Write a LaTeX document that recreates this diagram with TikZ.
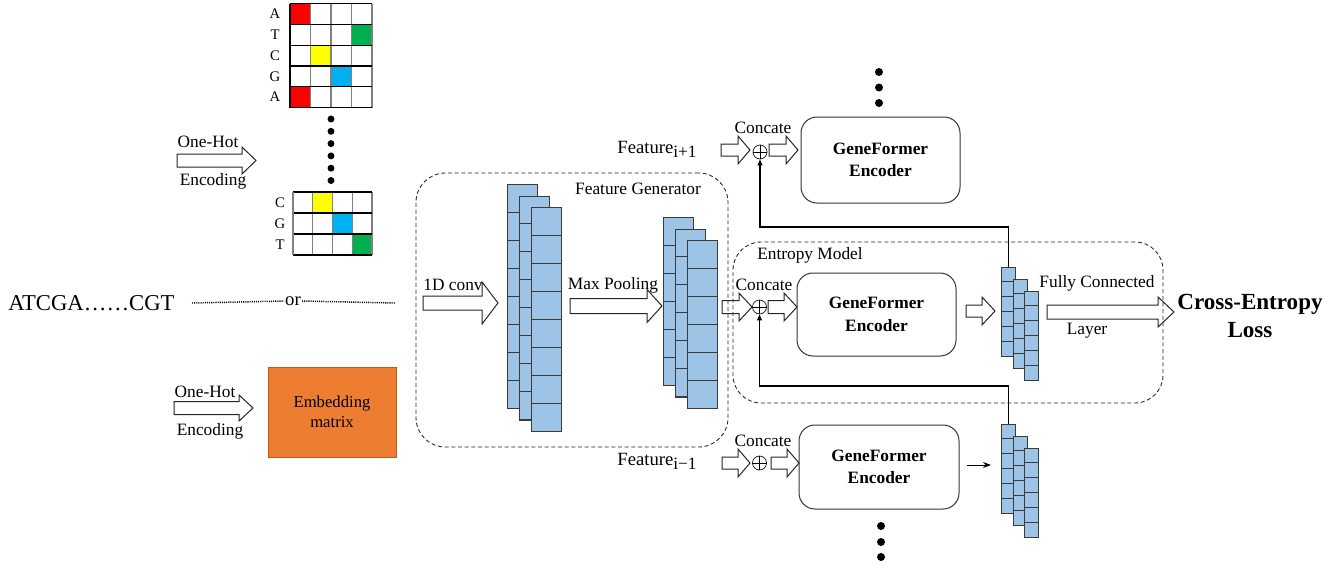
\documentclass[tikz,border=0pt]{standalone}
\usepackage{fontspec}
\setmainfont{Liberation Serif}
\usetikzlibrary{arrows.meta}
\definecolor{lyrfill}{HTML}{9DC3E6}
\definecolor{lyrdraw}{HTML}{3A3A3A}
\definecolor{cred}{HTML}{FF0000}
\definecolor{cgreen}{HTML}{00B050}
\definecolor{cyel}{HTML}{FFFF00}
\definecolor{cblue}{HTML}{00B0F0}
\definecolor{embfill}{HTML}{ED7D31}
\definecolor{embdraw}{HTML}{C55A11}
\newcommand\lyr[6]{%
  \node[lyrbox, minimum width=#4*0.75pt, minimum height=#5*0.75pt, anchor=north west] (#1) at (#2,#3) {};
  \foreach \k in {1,...,#6}{\draw[lyrdraw, line width=0.7pt] (#2,{#3+\k*#5/#6}) -- ++(#4,0);}
}
\newcommand\barrow[6]{% x1 x2 y bodyhalf headhalf headlen
  \draw[barr] (#1,{#3-#4}) -- ({#2-#6},{#3-#4}) -- ({#2-#6},{#3-#5}) -- (#2,#3) -- ({#2-#6},{#3+#5}) -- ({#2-#6},{#3+#4}) -- (#1,{#3+#4}) -- cycle;
}
\newcommand\subtx[1]{\raisebox{-0.45ex}{\fontsize{13}{15}\selectfont #1}}
\begin{document}
\begin{tikzpicture}[x=0.75pt,y=-0.75pt,
  lyrbox/.style={draw=lyrdraw, fill=lyrfill, line width=0.7pt, inner sep=0pt},
  barr/.style={draw=black!85, fill=white, line width=0.75pt, line join=miter},
  lbl/.style={font=\fontsize{13}{15}\selectfont, inner sep=0pt},
  glbl/.style={font=\fontsize{11}{13}\selectfont, inner sep=0pt},
  enc/.style={draw=black!80, rounded corners=12pt, line width=0.75pt, align=center, font=\fontsize{13}{17}\selectfont\bfseries, inner sep=0pt},
  dashbox/.style={draw=black!85, dash pattern=on 3pt off 2pt, line width=0.65pt, inner sep=0pt},
  oplus/.style={circle, draw=black!85, line width=0.6pt, minimum size=10.5pt, inner sep=0pt},
  fb/.style={draw=black, line width=0.9pt, -{Triangle[length=4.5pt,width=3.6pt]}},
  dot/.style={circle, fill=black, inner sep=0pt, minimum size=#1}
]
\useasboundingbox (0,0) rectangle (1338,568);

% ---------- top one-hot grid ----------
\foreach \r/\c/\col in {0/0/cred,1/3/cgreen,2/1/cyel,3/2/cblue,4/0/cred}
  \fill[\col] ({290+\c*20.5},{3.5+\r*20.8}) rectangle ++(20.5,20.8);
\foreach \c in {1,...,4} \draw[gray, line width=0.9pt] ({290+\c*20.5},3.5) -- ++(0,104);
\foreach \r in {0,...,5} \draw[black, line width=0.9pt] (290,{3.5+\r*20.8}) -- (372,{3.5+\r*20.8});
\draw[black, line width=0.9pt] (290,3.5) -- ++(0,104);
\foreach \t [count=\i from 0] in {A,T,C,G,A}
  \node[glbl] (gt\i) at (275,{13.9+\i*20.8}) {\t};

\foreach \i in {0,...,5} \node[dot=5.2pt] (vd\i) at (331,{119+\i*12.3}) {};

% ---------- bottom one-hot grid ----------
\foreach \r/\c/\col in {0/1/cyel,1/2/cblue,2/3/cgreen}
  \fill[\col] ({293+\c*19.75},{192+\r*21}) rectangle ++(19.75,21);
\foreach \c in {1,...,4} \draw[gray, line width=0.9pt] ({293+\c*19.75},192) -- ++(0,63);
\foreach \r in {0,...,3} \draw[black, line width=0.9pt] (293,{192+\r*21}) -- (372,{192+\r*21});
\draw[gray, line width=0.9pt] (293,192) -- ++(0,63);
\foreach \t [count=\i from 0] in {C,G,T}
  \node[glbl] (gb\i) at (280,{202.5+\i*21}) {\t};

% ---------- one-hot arrows ----------
\barrow{177}{256}{160.5}{6.5}{13.5}{14}
\node[lbl] (oh1) at (208,142) {One-Hot};
\node[lbl] (en1) at (213,181) {Encoding};
\barrow{174}{253}{408}{6.5}{13}{14}
\node[lbl] (oh2) at (205,392) {One-Hot};
\node[lbl] (en2) at (210,431) {Encoding};

% ---------- input sequence ----------
\node[font=\fontsize{17}{20}\selectfont, inner sep=0pt, anchor=west] (seq) at (8,303) {ATCGA……CGT};
\node[lbl, font=\fontsize{14}{16}\selectfont] (or) at (293,301) {or};
\draw[line width=1.1pt, dash pattern=on 0.8pt off 0.8pt] (192,303) -- ([xshift=-0.75pt]or.west);
\draw[line width=1.1pt, dash pattern=on 0.8pt off 0.8pt] ([xshift=0.75pt]or.east) -- (395,303);

% ---------- embedding matrix ----------
\node[draw=embdraw, fill=embfill, line width=0.7pt, minimum width=96pt, minimum height=67.5pt, align=center,
      font=\fontsize{12.5}{15}\selectfont, inner sep=0pt] (emb) at (332,412) {Embedding\\matrix};

% ---------- feature generator ----------
\barrow{423}{498}{303}{7}{21}{16}
\node[lbl] (c1d) at (453,285) {1D conv};
\lyr{cv1}{507}{184}{30}{224}{8}
\lyr{cv2}{519}{195.5}{30}{224}{8}
\lyr{cv3}{531}{207}{30}{224}{8}
\barrow{570}{662}{306}{7.5}{16.5}{15}
\node[lbl] (mp) at (613,285) {Max Pooling};
\lyr{pl1}{663}{217}{30}{168}{6}
\lyr{pl2}{675}{228.5}{30}{168}{6}
\lyr{pl3}{687}{240}{30}{168}{6}
\node[lbl] (fgl) at (638,189) {Feature Generator};

% ---------- top branch ----------
\node[dot=6pt] (td0) at (879,72) {};
\node[dot=6pt] (td1) at (879,87.5) {};
\node[dot=6pt] (td2) at (879,103) {};
\node[font=\fontsize{14}{16}\selectfont, inner sep=0pt] (fp1) at (657,149) {Feature\subtx{i+1}};
\barrow{721}{750}{150}{6}{14}{12}
\node[oplus] (opT) at (760,152) {};
\draw[line width=0.6pt] (opT.north) -- (opT.south) (opT.west) -- (opT.east);
\barrow{769}{798}{150}{6}{14}{12}
\node[lbl] (ccT) at (763,128) {Concate};
\node[enc, minimum width=119.25pt, minimum height=64.5pt] (encT) at (880.5,160) {GeneFormer\\Encoder};

% ---------- middle branch (entropy model) ----------
\barrow{722}{752}{307}{6.5}{14}{13}
\node[oplus] (opM) at (759.5,307) {};
\draw[line width=0.6pt] (opM.north) -- (opM.south) (opM.west) -- (opM.east);
\barrow{768}{797}{307}{6.5}{14}{13}
\node[lbl] (ccM) at (764,285) {Concate};
\node[enc, minimum width=119.25pt, minimum height=62.25pt] (encM) at (876.5,314.5) {GeneFormer\\Encoder};
\barrow{966}{995}{311}{6}{14}{13}
\lyr{sM1}{1001}{267}{14}{89}{6}
\lyr{sM2}{1012.5}{279}{14}{89}{6}
\lyr{sM3}{1024}{291}{14}{89}{6}
\node[lbl] (entl) at (810,255) {Entropy Model};
\barrow{1047}{1174}{312}{7}{15}{16}
\node[lbl] (fcl) at (1097,283) {Fully Connected};
\node[lbl] (fcl2) at (1087,331) {Layer};
\node[align=center, font=\fontsize{17.3}{21.5}\selectfont\bfseries, inner sep=0pt] (cel) at (1250,316) {Cross-Entropy\\Loss};

% ---------- bottom branch ----------
\node[font=\fontsize{14}{16}\selectfont, inner sep=0pt] (fm1) at (657,461) {Feature\subtx{i−1}};
\barrow{722}{750}{463}{6}{14}{12}
\node[oplus] (opB) at (759.5,463) {};
\draw[line width=0.6pt] (opB.north) -- (opB.south) (opB.west) -- (opB.east);
\barrow{771}{799}{463}{6}{14}{12}
\node[lbl] (ccB) at (763,441) {Concate};
\node[enc, minimum width=120pt, minimum height=63pt] (encB) at (879,467) {GeneFormer\\Encoder};
\lyr{sB1}{1001}{424}{14}{89}{6}
\lyr{sB2}{1012.5}{436}{14}{89}{6}
\lyr{sB3}{1024}{448}{14}{89}{6}
\draw[line width=0.75pt, -{Stealth[length=6pt,width=4.5pt]}, shorten <=5.25pt, shorten >=7.5pt] (encB.east |- 0,465) -- (sB1.west |- 0,465);
\node[dot=6pt] (bd0) at (881,526) {};
\node[dot=6pt] (bd1) at (881,542) {};
\node[dot=6pt] (bd2) at (881,557) {};

% ---------- feedback connectors ----------
\draw[fb] (sM1.north) -- ++(0,-40) -| (opT.south);
\draw[fb] (sB1.north) -- ++(0,-38) -| (opM.south);

% ---------- dashed groups ----------
\node[dashbox, rounded corners=22pt, minimum width=234pt, minimum height=205.5pt] (fg) at (572,310) {};
\node[dashbox, rounded corners=21pt, minimum width=322.5pt, minimum height=120.75pt] (em) at (948,322.5) {};
\end{tikzpicture}
\end{document}
